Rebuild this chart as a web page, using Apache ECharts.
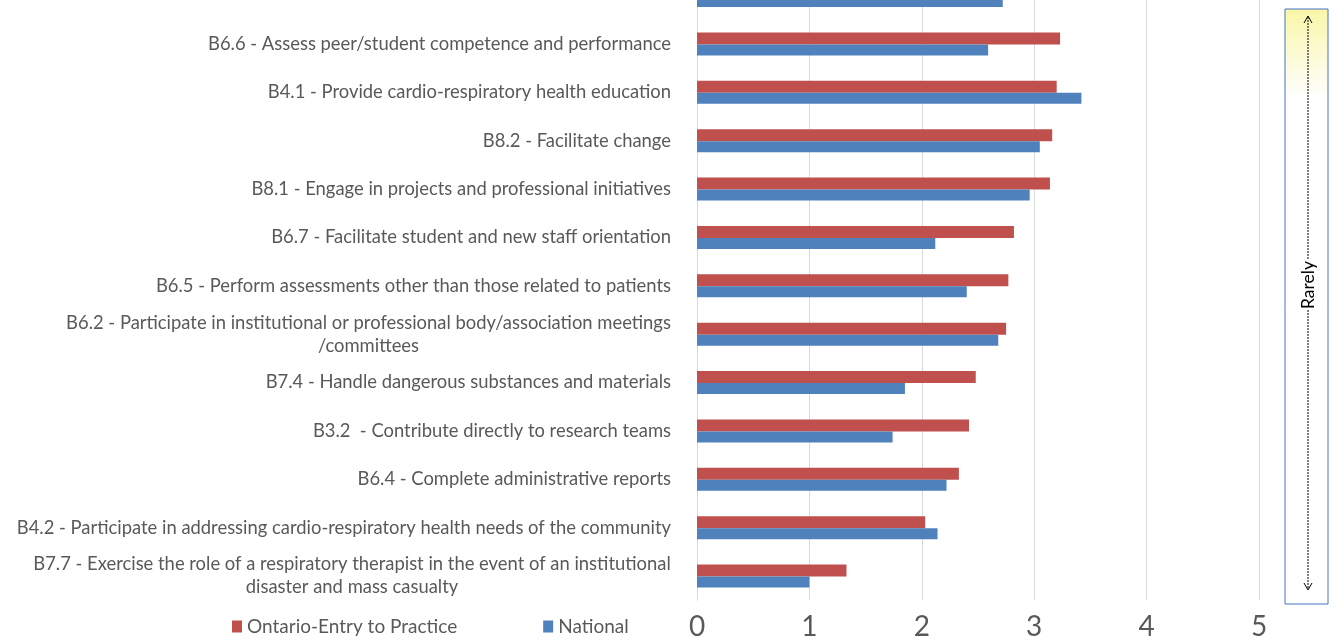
<!DOCTYPE html>
<html>
<head>
<meta charset="utf-8">
<script src="https://cdn.jsdelivr.net/npm/echarts@6/dist/echarts.min.js"></script>
<style>
html, body { margin: 0; padding: 0; background: #fff; overflow: hidden; }
/* the reference is cropped: the first category sits above the visible area */
#main { position: absolute; left: 0; top: -29px; width: 1334px; height: 671px; }
</style>
</head>
<body>
<div id="main"></div>
<script>
// categories top to bottom (first one is cut off at the top of the picture)
const categories = [
    '',
    'B6.6 - Assess peer/student competence and performance',
    'B4.1 - Provide cardio-respiratory health education',
    'B8.2 - Facilitate change',
    'B8.1 - Engage in projects and professional initiatives',
    'B6.7 - Facilitate student and new staff orientation',
    'B6.5 - Perform assessments other than those related to patients',
    'B6.2 - Participate in institutional or professional body/association meetings\n/committees',
    'B7.4 - Handle dangerous substances and materials',
    'B3.2  - Contribute directly to research teams',
    'B6.4 - Complete administrative reports',
    'B4.2 - Participate in addressing cardio-respiratory health needs of the community',
    'B7.7 - Exercise the role of a respiratory therapist in the event of an institutional\ndisaster and mass casualty'
];
const ontario = [3.26, 3.23, 3.20, 3.16, 3.14, 2.82, 2.77, 2.75, 2.48, 2.42, 2.33, 2.03, 1.33];
const national = [2.72, 2.59, 3.42, 3.05, 2.96, 2.12, 2.40, 2.68, 1.85, 1.74, 2.22, 2.14, 1.00];
const seriesNames = ['Ontario-Entry to Practice', 'National'];
const ticks = [0, 1, 2, 3, 4, 5];

const labelFont = 'Lato';
const labelSize = 18.4;
const dy = 29; // vertical offset of the canvas

// two-line labels: centre the second line under the first
const ctx = document.createElement('canvas').getContext('2d');
ctx.font = labelSize + 'px ' + labelFont;
const rich = {};
const labelText = {};
categories.forEach((c, i) => {
    if (c.indexOf('\n') < 0) return;
    let lines = c.split('\n');
    let w = Math.ceil(ctx.measureText(lines[0]).width);
    rich['m' + i] = {width: w, align: 'center', fontFamily: labelFont, fontSize: labelSize, color: '#595959', lineHeight: 23};
    labelText[c] = '{m' + i + '|' + lines[0] + '}\n{m' + i + '|' + lines[1] + '}';
});

let chart = echarts.init(document.getElementById('main'));
let option = {
    animation: false,
    backgroundColor: '#fff',
    legend: {
        left: 227,
        top: 612 + dy,
        itemGap: 86,
        itemWidth: 10,
        itemHeight: 12,
        icon: 'rect',
        textStyle: {color: '#595959', fontSize: 19, fontFamily: labelFont},
        data: seriesNames
    },
    grid: {left: 697, right: 75, top: 0.4, bottom: 41.8, containLabel: false},
    xAxis: {
        type: 'value',
        min: 0,
        max: 5,
        interval: 1,
        axisLine: {show: false},
        axisTick: {show: false},
        splitLine: {lineStyle: {color: '#d9d9d9', width: 1}},
        axisLabel: {
            color: '#595959', fontSize: 28, fontFamily: labelFont, margin: 13,
            formatter: v => ticks.indexOf(v) >= 0 ? String(v) : ''
        }
    },
    yAxis: {
        type: 'category',
        inverse: true,
        data: categories,
        axisLine: {show: true, lineStyle: {color: '#d9d9d9'}},
        axisTick: {show: false},
        axisLabel: {
            color: '#595959', fontSize: labelSize, fontFamily: labelFont, margin: 26,
            lineHeight: 23,
            formatter: v => labelText[v] || v,
            rich: rich
        }
    },
    series: [
        {name: seriesNames[0], type: 'bar', data: ontario, barWidth: 12, barGap: '0%',
            itemStyle: {color: '#c0504d'}},
        {name: seriesNames[1], type: 'bar', data: national, barWidth: 11, barGap: '0%',
            itemStyle: {color: '#4f81bd'}}
    ],
    graphic: [
        {type: 'rect', shape: {x: 1285, y: 9 + dy, width: 43, height: 595},
            style: {
                fill: new echarts.graphic.LinearGradient(0, 0, 0, 1, [
                    {offset: 0, color: '#f9f6a8'},
                    {offset: 0.15, color: '#ffffff'},
                    {offset: 1, color: '#ffffff'}
                ]),
                stroke: '#4472c4', lineWidth: 1
            }},
        {type: 'line', shape: {x1: 1308, y1: 17 + dy, x2: 1308, y2: 259 + dy},
            style: {stroke: '#000', lineWidth: 1, lineDash: [2, 1]}},
        {type: 'line', shape: {x1: 1308, y1: 310 + dy, x2: 1308, y2: 589 + dy},
            style: {stroke: '#000', lineWidth: 1, lineDash: [2, 1]}},
        {type: 'polyline', shape: {points: [[1304, 23 + dy], [1308, 16 + dy], [1312, 23 + dy]]},
            style: {stroke: '#000', lineWidth: 1, fill: null}},
        {type: 'polyline', shape: {points: [[1304, 583 + dy], [1308, 590 + dy], [1312, 583 + dy]]},
            style: {stroke: '#000', lineWidth: 1, fill: null}},
        {type: 'text', x: 1308, y: 285 + dy, rotation: Math.PI / 2,
            style: {text: 'Rarely', fontSize: 17.5, fontFamily: labelFont, fill: '#000',
                align: 'center', verticalAlign: 'middle'}}
    ]
};
chart.setOption(option);
</script>
</body>
</html>
